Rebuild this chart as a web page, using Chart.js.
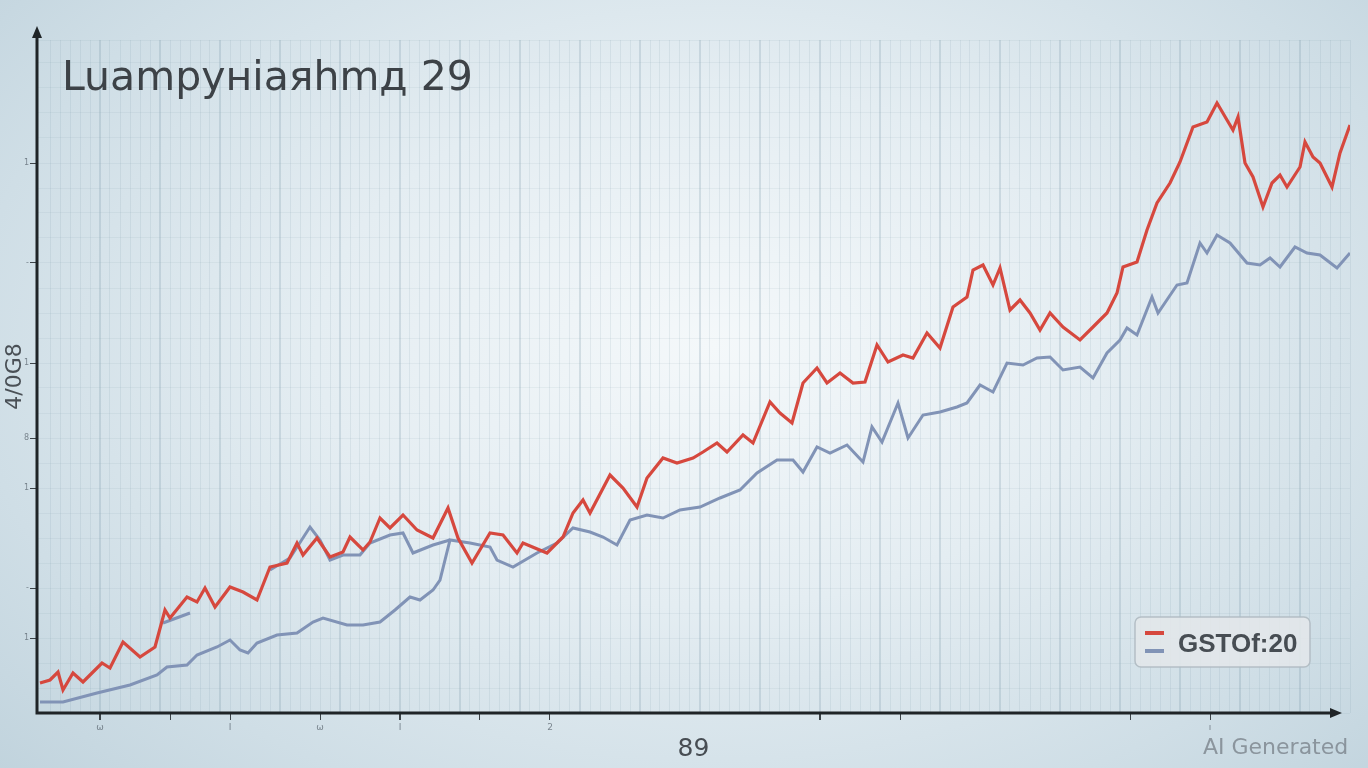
<!DOCTYPE html>
<html>
<head>
<meta charset="utf-8">
<title>Luampyнiaяhmд 29</title>
<script src="https://cdn.jsdelivr.net/npm/chart.js@4.4.1/dist/chart.umd.min.js"></script>
<style>
  html, body { margin: 0; padding: 0; }
  body {
    width: 1368px;
    height: 768px;
    overflow: hidden;
    background: radial-gradient(ellipse 72% 85% at 52% 45%, #f4f8fa 0%, #e4edf2 40%, #cfdee6 75%, #bfd2dc 100%);
  }
  canvas { display: block; }
</style>
</head>
<body>
<canvas id="grafico" width="1368" height="768"></canvas>
<script>
// Datos (x = paso, y = valor)
const redX = [0, 1.0, 1.8, 2.3, 3.3, 4.3, 5.0, 6.2, 7.0, 8.3, 10.0, 11.5, 12.5, 13.0, 14.7, 15.7, 16.5, 17.5, 19.0, 20.3,
  21.7, 23.0, 24.7, 25.7, 26.3, 27.7, 29.0, 30.3, 31.0, 32.3, 33.0, 34.0, 35.0, 36.3, 37.7, 39.3, 40.8, 41.8, 43.2, 45.0,
  46.3, 47.7, 48.3, 50.7, 52.3, 53.3, 54.3, 55.0, 57.0, 58.3, 59.7, 60.7, 62.3, 63.7, 65.3, 66.3, 67.7, 68.7, 70.3, 71.3,
  73.0, 74.0, 75.2, 76.3, 77.7, 78.7, 80.0, 81.3, 82.5, 83.7, 84.8, 86.3, 87.3, 88.7, 90.0, 91.3, 92.7, 93.3, 94.3, 95.3,
  96.0, 97.0, 98.0, 99.0, 100.0, 101.0, 102.3, 104.0, 105.3, 106.7, 107.7, 108.3, 109.7, 110.7, 111.7, 113.0, 114.0, 115.3, 116.7, 117.7,
  118.7, 119.3, 119.8, 120.5, 121.3, 122.3, 123.2, 124.0, 124.7, 126.0, 126.5, 127.3, 128.0, 129.2, 130.0, 131.0];
const redY = [3.0, 3.3, 4.1, 2.3, 4.0, 3.1, 3.8, 5.0, 4.5, 7.1, 5.6, 6.6, 10.3, 9.5, 11.6, 11.1, 12.5, 10.6, 12.6, 12.1,
  11.3, 14.6, 15.0, 17.0, 15.8, 17.5, 15.6, 16.1, 17.6, 16.3, 17.1, 19.5, 18.5, 19.8, 18.3, 17.5, 20.5, 17.5, 15.0, 18.0,
  17.8, 16.0, 17.0, 16.0, 17.6, 20.0, 21.3, 20.0, 23.8, 22.5, 20.6, 23.5, 25.5, 25.0, 25.5, 26.1, 27.0, 26.1, 27.8, 27.0,
  31.1, 30.0, 29.0, 33.0, 34.5, 33.0, 34.0, 33.0, 33.1, 36.8, 35.1, 35.8, 35.5, 38.0, 36.5, 40.6, 41.6, 44.3, 44.8, 42.8,
  44.5, 40.3, 41.3, 40.0, 38.3, 40.0, 38.6, 37.3, 38.6, 40.0, 42.0, 44.6, 45.1, 48.3, 51.0, 53.0, 55.1, 58.6, 59.1, 61.0,
  59.3, 58.3, 59.6, 55.0, 53.6, 50.6, 53.0, 53.8, 52.6, 54.6, 57.1, 55.6, 55.0, 52.6, 56.0, 58.8];

const blueX = [0, 2.3, 5.7, 9.0, 11.7, 12.7, 14.7, 15.7, 17.7, 19.0, 20.0, 20.8, 21.7, 23.7, 25.7, 27.3, 28.3, 30.7, 32.3, 34.0,
  35.5, 37.0, 38.0, 39.3, 40.0, 41.0, 43.0, 45.0, 45.7, 47.3, 49.7, 51.7, 53.3, 55.0, 56.3, 57.7, 59.0, 60.7, 62.3, 64.0,
  66.0, 68.0, 70.0, 71.7, 73.7, 75.3, 76.3, 77.7, 79.0, 80.7, 82.3, 83.2, 84.2, 85.8, 86.8, 88.3, 90.0, 91.7, 92.7, 94.0,
  95.3, 96.7, 98.3, 99.7, 101.0, 102.3, 104.0, 105.3, 106.7, 108.0, 108.7, 109.7, 111.2, 111.8, 113.7, 114.7, 116.0, 116.7, 117.7, 119.0,
  120.7, 122.0, 123.0, 124.0, 125.5, 126.7, 128.0, 129.7, 131.0];
const blueY = [1.1, 1.1, 2.0, 2.8, 3.8, 4.6, 4.8, 5.8, 6.6, 7.3, 6.3, 6.0, 7.0, 7.8, 8.0, 9.1, 9.5, 8.8, 8.8, 9.1,
  10.3, 11.6, 11.3, 12.3, 13.3, 17.3, 17.0, 16.6, 15.3, 14.6, 16.0, 17.0, 18.5, 18.1, 17.6, 16.8, 19.3, 19.8, 19.5, 20.3,
  20.6, 21.5, 22.3, 24.0, 25.3, 25.3, 24.1, 26.6, 26.0, 26.8, 25.1, 28.6, 27.1, 31.0, 27.5, 29.8, 30.1, 30.6, 31.0, 32.8,
  32.1, 35.0, 34.8, 35.5, 35.6, 34.3, 34.6, 33.5, 36.0, 37.3, 38.5, 37.8, 41.6, 40.0, 42.8, 43.0, 47.0, 46.0, 47.8, 47.0,
  45.0, 44.8, 45.5, 44.6, 46.6, 46.0, 45.8, 44.5, 46.0];

// tramo azul que se superpone a la línea roja
const ghostX = [12.3, 15.0, 15.5, 23.0, 25.0, 27.0, 28.0, 29.0, 30.3, 32.0, 33.0, 35.0, 36.3, 37.3, 39.3, 41.0];
const ghostY = [9.0, 10.0, null, 14.3, 15.5, 18.6, 17.3, 15.3, 15.8, 15.8, 17.0, 17.8, 18.0, 16.0, 16.8, 17.3];

// marcas de los ejes
const xMarks = [6, 13, 19, 28, 36, 44, 51, 78, 86, 109, 117];
const xMarkText = ['ω', '', 'I', 'ω', 'I', '', '2', '', '', '', 'ı'];
const yMarks = [7.5, 12.5, 22.5, 27.5, 35, 45, 55];
const yMarkText = ['1', '-', '1', '8', '1', '-', '1'];

const titulo = 'Luampyнiaяhmд 29';
const tituloX = '89';
const tituloY = '4/0G8';
const leyenda = 'GSTOf:20';
const marcaAgua = 'AI Generated';

const rojo = '#d6483e';
const azul = '#8193b6';

function puntos(xs, ys) {
  return xs.map((x, i) => ({ x: x, y: ys[i] }));
}

function esMarca(lista, v) {
  return lista.findIndex(m => Math.abs(m - v) < 0.01);
}

// ejes con flechas, título, leyenda y marca de agua
const decoracion = {
  id: 'decoracion',
  afterDraw(chart) {
    const { ctx, chartArea } = chart;
    const x0 = chartArea.left;
    const y0 = chartArea.bottom;
    ctx.save();

    // ejes
    ctx.strokeStyle = '#1f2427';
    ctx.fillStyle = '#1f2427';
    ctx.lineWidth = 3;
    ctx.beginPath();
    ctx.moveTo(x0, y0 + 1.5);
    ctx.lineTo(x0, 36);
    ctx.moveTo(x0 - 1.5, y0);
    ctx.lineTo(1332, y0);
    ctx.stroke();
    ctx.beginPath();
    ctx.moveTo(x0, 26);
    ctx.lineTo(x0 - 5, 38);
    ctx.lineTo(x0 + 5, 38);
    ctx.closePath();
    ctx.fill();
    ctx.beginPath();
    ctx.moveTo(1342, y0);
    ctx.lineTo(1330, y0 - 5);
    ctx.lineTo(1330, y0 + 5);
    ctx.closePath();
    ctx.fill();

    // título
    ctx.font = '41px "DejaVu Sans"';
    ctx.fillStyle = '#3d4247';
    ctx.textBaseline = 'alphabetic';
    ctx.fillText(titulo, 62, 90);

    // leyenda
    ctx.fillStyle = 'rgba(226, 231, 234, 0.9)';
    ctx.strokeStyle = 'rgba(175, 186, 193, 0.9)';
    ctx.lineWidth = 1.5;
    ctx.beginPath();
    ctx.roundRect(1135, 617, 175, 50, 6);
    ctx.fill();
    ctx.stroke();
    ctx.lineWidth = 4;
    ctx.strokeStyle = rojo;
    ctx.beginPath();
    ctx.moveTo(1145, 633);
    ctx.lineTo(1164, 633);
    ctx.stroke();
    ctx.strokeStyle = azul;
    ctx.beginPath();
    ctx.moveTo(1145, 651);
    ctx.lineTo(1164, 651);
    ctx.stroke();
    ctx.font = 'bold 26px "Liberation Sans"';
    ctx.fillStyle = '#474d53';
    ctx.fillText(leyenda, 1178, 652);

    // marca de agua
    ctx.font = '22px "DejaVu Sans"';
    ctx.fillStyle = 'rgba(118, 126, 134, 0.75)';
    ctx.fillText(marcaAgua, 1203, 754);
    ctx.restore();
  }
};

new Chart(document.getElementById('grafico'), {
  type: 'line',
  data: {
    datasets: [
      {
        label: 'rojo',
        data: puntos(redX, redY),
        borderColor: rojo,
        borderWidth: 3.2,
        pointRadius: 0,
        tension: 0,
        order: 0
      },
      {
        label: 'azul',
        data: puntos(blueX, blueY),
        borderColor: azul,
        borderWidth: 3,
        pointRadius: 0,
        tension: 0,
        order: 1
      },
      {
        label: 'azul2',
        data: puntos(ghostX, ghostY),
        borderColor: azul,
        borderWidth: 3,
        pointRadius: 0,
        tension: 0,
        spanGaps: false,
        order: 2
      }
    ]
  },
  options: {
    responsive: false,
    animation: false,
    layout: { padding: { top: 40, right: 18, left: 0, bottom: 0 } },
    plugins: {
      legend: { display: false },
      tooltip: { enabled: false }
    },
    scales: {
      x: {
        type: 'linear',
        min: -0.3,
        max: 131,
        afterFit: s => { s.height = 55; },
        border: { display: false },
        grid: {
          color: c => Math.round(c.tick.value) % 6 === 0 ? 'rgba(110, 140, 160, 0.22)' : 'rgba(110, 140, 160, 0.12)',
          lineWidth: c => Math.round(c.tick.value) % 6 === 0 ? 2 : 1,
          tickColor: c => esMarca(xMarks, c.tick.value) >= 0 ? '#3c4348' : 'rgba(0, 0, 0, 0)',
          tickLength: 7
        },
        ticks: {
          stepSize: 1,
          autoSkip: false,
          maxRotation: 0,
          padding: 2,
          color: 'rgba(60, 70, 80, 0.6)',
          font: { size: 9, family: 'DejaVu Sans' },
          callback: v => {
            const i = esMarca(xMarks, v);
            return i >= 0 ? xMarkText[i] : '';
          }
        },
        title: {
          display: true,
          text: tituloX,
          color: '#474d53',
          font: { size: 25, family: 'DejaVu Sans' },
          padding: { top: 0, bottom: 4 }
        }
      },
      y: {
        min: 0,
        max: 67.3,
        afterFit: s => { s.width = 37; },
        border: { display: false },
        grid: {
          color: 'rgba(110, 140, 160, 0.09)',
          tickColor: c => esMarca(yMarks, c.tick.value) >= 0 ? '#3c4348' : 'rgba(0, 0, 0, 0)',
          tickLength: 7
        },
        ticks: {
          stepSize: 2.5,
          autoSkip: false,
          padding: 1,
          color: 'rgba(60, 70, 80, 0.6)',
          font: { size: 8, family: 'DejaVu Sans' },
          callback: v => {
            const i = esMarca(yMarks, v);
            return i >= 0 ? yMarkText[i] : '';
          }
        },
        title: {
          display: true,
          text: tituloY,
          color: '#4a5056',
          font: { size: 22, family: 'DejaVu Sans' },
          padding: { top: 2, bottom: 0 }
        }
      }
    }
  },
  plugins: [decoracion]
});
</script>
</body>
</html>
